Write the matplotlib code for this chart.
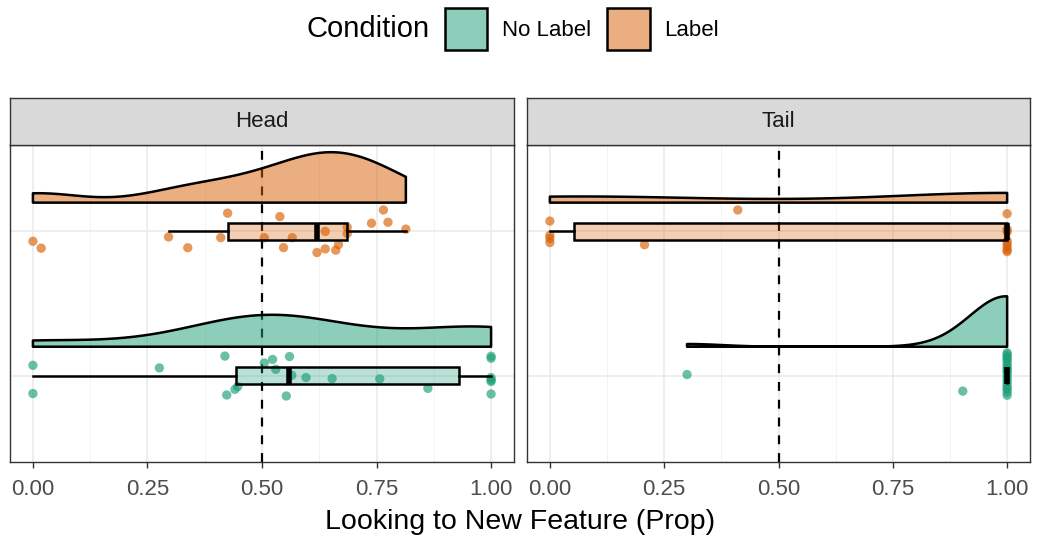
# raincloud plot: half violin + boxplot + jittered points, faceted by Head / Tail
import numpy as np
import matplotlib
matplotlib.use("Agg")
from matplotlib import pyplot as plt
from matplotlib import cbook
from matplotlib.colors import to_rgba
from matplotlib.patches import Patch

plt.rcParams['font.family'] = ['Liberation Sans', 'DejaVu Sans']

panels = ['Head', 'Tail']
conditions = ['No Label', 'Label']
colors = {'No Label': '#1b9e77', 'Label': '#d95f02'}
x_ticks = [0.0, 0.25, 0.5, 0.75, 1.0]
x_tick_labels = ['0.00', '0.25', '0.50', '0.75', '1.00']

# proportions, with the y jitter each point was drawn with
head_label = [0.00, 0.018, 0.296, 0.338, 0.41, 0.425, 0.505, 0.539, 0.547, 0.566, 0.62,
              0.638, 0.638, 0.661, 0.667, 0.686, 0.686, 0.739, 0.765, 0.775, 0.814]
head_label_jit = [-0.068, -0.116, -0.038, -0.113, -0.043, 0.127, -0.043, 0.103, -0.112, -0.043, -0.146,
                  0.0, -0.121, -0.130, -0.091, 0.029, -0.014, 0.057, 0.149, 0.064, 0.016]

head_nolabel = [0.0, 0.0, 0.276, 0.419, 0.423, 0.441, 0.447, 0.505, 0.523, 0.53, 0.553, 0.56,
                0.565, 0.596, 0.653, 0.757, 0.862, 1.0, 1.0, 1.0, 1.0, 1.0, 1.0]
head_nolabel_jit = [0.071, -0.125, 0.053, 0.135, -0.135, -0.096, -0.077, 0.087, 0.112, 0.043, -0.142, 0.132,
                    0.002, -0.014, -0.021, -0.023, -0.089, 0.134, 0.12, -0.014, -0.031, -0.041, -0.128]

tail_label = [0.0, 0.0, 0.0, 0.0, 0.207, 0.411, 1.0, 1.0, 1.0, 1.0, 1.0, 1.0, 1.0, 1.0]
tail_label_jit = [0.072, -0.026, -0.049, -0.077, -0.092, 0.149, 0.123, 0.015, -0.003, -0.065,
                  -0.086, -0.106, -0.127, -0.140]

tail_nolabel = [0.3, 0.903] + [1.0] * 18
tail_nolabel_jit = [0.007, -0.108, 0.158, 0.144, 0.130, 0.116, 0.103, 0.082, 0.062, 0.048,
                    0.034, 0.021, 0.0, -0.021, -0.041, -0.062, -0.082, -0.096, -0.116, -0.137]

data = {
    'Head': {'No Label': (head_nolabel, head_nolabel_jit), 'Label': (head_label, head_label_jit)},
    'Tail': {'No Label': (tail_nolabel, tail_nolabel_jit), 'Label': (tail_label, tail_label_jit)},
}


def kde(x):
    # gaussian density with R's bw.nrd0, trimmed to the data range
    x = np.asarray(x, float)
    n = len(x)
    sd = x.std(ddof=1)
    q75, q25 = np.percentile(x, [75, 25])
    lo = min(sd, (q75 - q25) / 1.34)
    if lo == 0:
        lo = sd
    bw = 0.9 * lo * n ** -0.2
    grid = np.linspace(x.min(), x.max(), 512)
    dens = np.exp(-0.5 * ((grid[:, None] - x[None, :]) / bw) ** 2).sum(1) / (n * bw * np.sqrt(2 * np.pi))
    return grid, dens


fig = plt.figure(figsize=(10.38, 5.42), dpi=100)
W, H = 1038, 542
panel_x = [(10, 514), (527, 1030)]
body_top, body_bot, strip_top = 145, 462, 98
lw = 1.8

for (x0, x1), panel in zip(panel_x, panels):
    ax = fig.add_axes([x0 / W, 1 - body_bot / H, (x1 - x0) / W, (body_bot - body_top) / H])
    ax.set_xlim(-0.05, 1.05)
    ax.set_ylim(0.4, 2.6)
    ax.set_xticks(x_ticks)
    ax.set_xticklabels(x_tick_labels, fontsize=16, color='#4D4D4D')
    ax.set_xticks([0.125, 0.375, 0.625, 0.875], minor=True)
    ax.set_yticks([1, 2])
    ax.set_yticklabels([])
    ax.tick_params(axis='y', length=0)
    ax.tick_params(axis='x', which='major', length=4, width=1, color='#333333', pad=8)
    ax.tick_params(axis='x', which='minor', length=0)
    ax.grid(which='major', color='#EBEBEB', lw=1.2, zorder=0)
    ax.grid(which='minor', axis='x', color='#F3F3F3', lw=0.7, zorder=0)
    ax.set_axisbelow(True)
    for s in ax.spines.values():
        s.set_color('#333333')
        s.set_linewidth(1.0)

    ax.axvline(0.5, color='black', ls=(0, (4, 4)), lw=1.6, zorder=1)

    # densities scaled so the tallest violin in the panel has the same height
    dens_all = {c: kde(data[panel][c][0]) for c in conditions}
    dmax = max(d.max() for g, d in dens_all.values())
    for i, cond in enumerate(conditions):
        pos = i + 1
        vals, jit = data[panel][cond]
        col = colors[cond]
        grid, dens = dens_all[cond]
        base = pos + 0.2
        ax.fill_between(grid, base, base + dens / dmax * 0.35, facecolor=col, alpha=0.5,
                        edgecolor='none', zorder=2)
        ax.fill_between(grid, base, base + dens / dmax * 0.35, facecolor='none',
                        edgecolor='black', lw=lw, zorder=2.1)

        stats = cbook.boxplot_stats(np.asarray(vals), whis=1.5)
        ax.fill_betweenx([pos - 0.06, pos + 0.06], stats[0]['q1'], stats[0]['q3'],
                         facecolor=col, alpha=0.3, zorder=2.9)

        ax.scatter(vals, pos + np.asarray(jit), s=45, color=col, alpha=0.65,
                   edgecolors='none', zorder=3)

        ax.bxp(stats, positions=[pos], widths=0.12, orientation='horizontal',
               patch_artist=True, showfliers=False, showcaps=False,
               boxprops=dict(facecolor='none', edgecolor='black', lw=lw),
               whiskerprops=dict(color='black', lw=lw),
               medianprops=dict(color='black', lw=4, solid_capstyle='butt'),
               manage_ticks=False, zorder=4)

    sax = fig.add_axes([x0 / W, 1 - body_top / H, (x1 - x0) / W, (body_top - strip_top) / H])
    sax.set_facecolor('#D9D9D9')
    sax.set_xticks([])
    sax.set_yticks([])
    for s in sax.spines.values():
        s.set_color('#333333')
        s.set_linewidth(1.0)
    sax.text(0.5, 0.5, panel, ha='center', va='center', fontsize=16, color='#1A1A1A',
             transform=sax.transAxes)

fig.text(520 / W, 1 - 522 / H, 'Looking to New Feature (Prop)', ha='center', va='center', fontsize=20.5)

# legend on top
fig.text(307 / W, 1 - 29 / H, 'Condition', ha='left', va='center', fontsize=21)
handles = [Patch(facecolor=to_rgba(colors[c], 0.5), edgecolor='black', lw=lw) for c in conditions]
fig.legend(handles, conditions, loc='center left', bbox_to_anchor=(445 / W, 1 - 29 / H),
           ncol=2, frameon=False, fontsize=16, handlelength=1.9, handleheight=2.5,
           handletextpad=0.65, columnspacing=0.75, borderpad=0, borderaxespad=0)

fig.savefig('out.png', dpi=100)
